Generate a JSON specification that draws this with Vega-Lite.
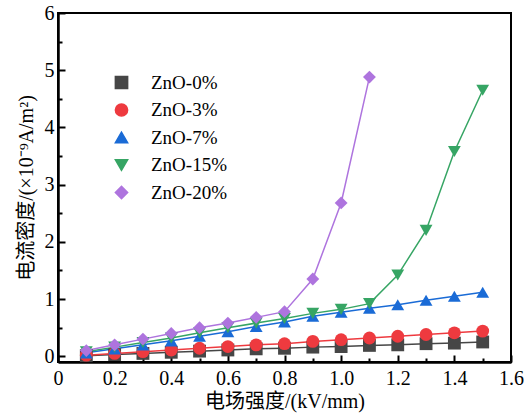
{
  "$schema": "https://vega.github.io/schema/vega-lite/v6.json",
  "width": 453,
  "height": 349,
  "autosize": "none",
  "padding": {"left": 58, "top": 13, "right": 13, "bottom": 55},
  "background": "white",
  "config": {
    "view": {"stroke": "black", "strokeWidth": 2},
    "font": "Liberation Serif",
    "axis": {
      "domainColor": "black", "domainWidth": 2.5,
      "tickColor": "black", "tickWidth": 2,
      "labelFont": "Liberation Serif", "labelFontSize": 20, "labelColor": "black",
      "titleFont": "Liberation Serif, Noto Sans CJK SC", "titleFontSize": 20, "titleFontWeight": "normal", "titleColor": "black",
      "grid": false
    }
  },
  "data": {"values": [
    {"x": 0.1, "y": 0.01, "s": "ZnO-0%"}, {"x": 0.2, "y": 0.03, "s": "ZnO-0%"}, {"x": 0.3, "y": 0.05, "s": "ZnO-0%"}, {"x": 0.4, "y": 0.07, "s": "ZnO-0%"}, {"x": 0.5, "y": 0.09, "s": "ZnO-0%"}, {"x": 0.6, "y": 0.11, "s": "ZnO-0%"}, {"x": 0.7, "y": 0.13, "s": "ZnO-0%"}, {"x": 0.8, "y": 0.14, "s": "ZnO-0%"}, {"x": 0.9, "y": 0.16, "s": "ZnO-0%"}, {"x": 1.0, "y": 0.17, "s": "ZnO-0%"}, {"x": 1.1, "y": 0.19, "s": "ZnO-0%"}, {"x": 1.2, "y": 0.2, "s": "ZnO-0%"}, {"x": 1.3, "y": 0.22, "s": "ZnO-0%"}, {"x": 1.4, "y": 0.23, "s": "ZnO-0%"}, {"x": 1.5, "y": 0.25, "s": "ZnO-0%"},
    {"x": 0.1, "y": 0.02, "s": "ZnO-3%"}, {"x": 0.2, "y": 0.05, "s": "ZnO-3%"}, {"x": 0.3, "y": 0.08, "s": "ZnO-3%"}, {"x": 0.4, "y": 0.11, "s": "ZnO-3%"}, {"x": 0.5, "y": 0.14, "s": "ZnO-3%"}, {"x": 0.6, "y": 0.17, "s": "ZnO-3%"}, {"x": 0.7, "y": 0.2, "s": "ZnO-3%"}, {"x": 0.8, "y": 0.22, "s": "ZnO-3%"}, {"x": 0.9, "y": 0.26, "s": "ZnO-3%"}, {"x": 1.0, "y": 0.29, "s": "ZnO-3%"}, {"x": 1.1, "y": 0.32, "s": "ZnO-3%"}, {"x": 1.2, "y": 0.35, "s": "ZnO-3%"}, {"x": 1.3, "y": 0.38, "s": "ZnO-3%"}, {"x": 1.4, "y": 0.41, "s": "ZnO-3%"}, {"x": 1.5, "y": 0.44, "s": "ZnO-3%"},
    {"x": 0.1, "y": 0.06, "s": "ZnO-7%"}, {"x": 0.2, "y": 0.13, "s": "ZnO-7%"}, {"x": 0.3, "y": 0.2, "s": "ZnO-7%"}, {"x": 0.4, "y": 0.27, "s": "ZnO-7%"}, {"x": 0.5, "y": 0.35, "s": "ZnO-7%"}, {"x": 0.6, "y": 0.43, "s": "ZnO-7%"}, {"x": 0.7, "y": 0.52, "s": "ZnO-7%"}, {"x": 0.8, "y": 0.6, "s": "ZnO-7%"}, {"x": 0.9, "y": 0.7, "s": "ZnO-7%"}, {"x": 1.0, "y": 0.77, "s": "ZnO-7%"}, {"x": 1.1, "y": 0.84, "s": "ZnO-7%"}, {"x": 1.2, "y": 0.9, "s": "ZnO-7%"}, {"x": 1.3, "y": 0.98, "s": "ZnO-7%"}, {"x": 1.4, "y": 1.05, "s": "ZnO-7%"}, {"x": 1.5, "y": 1.12, "s": "ZnO-7%"},
    {"x": 0.1, "y": 0.08, "s": "ZnO-15%"}, {"x": 0.2, "y": 0.16, "s": "ZnO-15%"}, {"x": 0.3, "y": 0.24, "s": "ZnO-15%"}, {"x": 0.4, "y": 0.32, "s": "ZnO-15%"}, {"x": 0.5, "y": 0.41, "s": "ZnO-15%"}, {"x": 0.6, "y": 0.5, "s": "ZnO-15%"}, {"x": 0.7, "y": 0.58, "s": "ZnO-15%"}, {"x": 0.8, "y": 0.66, "s": "ZnO-15%"}, {"x": 0.9, "y": 0.75, "s": "ZnO-15%"}, {"x": 1.0, "y": 0.82, "s": "ZnO-15%"}, {"x": 1.1, "y": 0.92, "s": "ZnO-15%"}, {"x": 1.2, "y": 1.42, "s": "ZnO-15%"}, {"x": 1.3, "y": 2.2, "s": "ZnO-15%"}, {"x": 1.4, "y": 3.58, "s": "ZnO-15%"}, {"x": 1.5, "y": 4.65, "s": "ZnO-15%"},
    {"x": 0.1, "y": 0.1, "s": "ZnO-20%"}, {"x": 0.2, "y": 0.2, "s": "ZnO-20%"}, {"x": 0.3, "y": 0.3, "s": "ZnO-20%"}, {"x": 0.4, "y": 0.4, "s": "ZnO-20%"}, {"x": 0.5, "y": 0.5, "s": "ZnO-20%"}, {"x": 0.6, "y": 0.58, "s": "ZnO-20%"}, {"x": 0.7, "y": 0.68, "s": "ZnO-20%"}, {"x": 0.8, "y": 0.78, "s": "ZnO-20%"}, {"x": 0.9, "y": 1.35, "s": "ZnO-20%"}, {"x": 1.0, "y": 2.68, "s": "ZnO-20%"}, {"x": 1.1, "y": 4.88, "s": "ZnO-20%"}
  ]},
  "encoding": {
    "x": {"field": "x", "type": "quantitative", "title": "电场强度/(kV/mm)",
      "scale": {"domain": [0, 1.6], "nice": false, "zero": false},
      "axis": {
        "values": [0, 0.1, 0.2, 0.3, 0.4, 0.5, 0.6, 0.7, 0.8, 0.9, 1.0, 1.1, 1.2, 1.3, 1.4, 1.5, 1.6],
        "labelExpr": "round(datum.value*10) % 2 == 0 ? (datum.value == 0 ? '0' : format(datum.value, '.1f')) : ''",
        "tickSize": {"condition": {"test": "round(datum.value*10) % 2 == 0", "value": -7}, "value": -4},
        "labelPadding": 13, "titlePadding": 0, "labelFlush": false, "labelOverlap": false
      }},
    "y": {"field": "y", "type": "quantitative", "title": "电流密度/(×10⁻⁹A/m²)",
      "scale": {"domain": [-0.1, 6], "nice": false, "zero": false},
      "axis": {
        "values": [0, 0.5, 1, 1.5, 2, 2.5, 3, 3.5, 4, 4.5, 5, 5.5, 6],
        "labelExpr": "datum.value % 1 == 0 ? format(datum.value, 'd') : ''",
        "tickSize": {"condition": {"test": "datum.value % 1 == 0", "value": -7}, "value": -4},
        "labelPadding": 11, "titlePadding": 8, "labelFlush": false, "labelOverlap": false
      }},
    "color": {"field": "s", "type": "nominal",
      "scale": {"domain": ["ZnO-0%", "ZnO-3%", "ZnO-7%", "ZnO-15%", "ZnO-20%"],
                "range": ["#464646", "#ee3a3f", "#1a6bd6", "#36a564", "#ae74de"]},
      "legend": {
        "title": null, "orient": "none", "legendX": 54, "legendY": 60, "padding": 0,
        "labelFont": "Liberation Serif", "labelFontSize": 19, "labelColor": "black",
        "symbolSize": 150, "labelOffset": 20, "rowPadding": 7.5, "symbolStrokeWidth": 1.5, "symbolOpacity": 1
      }}
  },
  "layer": [
    {"mark": {"type": "line", "strokeWidth": 1.5}, "encoding": {"detail": {"field": "s"}}},
    {"mark": {"type": "point", "filled": true, "opacity": 1, "size": 165},
     "encoding": {
       "shape": {"field": "s", "type": "nominal",
         "scale": {"domain": ["ZnO-0%", "ZnO-3%", "ZnO-7%", "ZnO-15%", "ZnO-20%"],
                   "range": ["square", "circle", "triangle-up", "triangle-down", "diamond"]},
         "legend": null}
     }}
  ]
}
